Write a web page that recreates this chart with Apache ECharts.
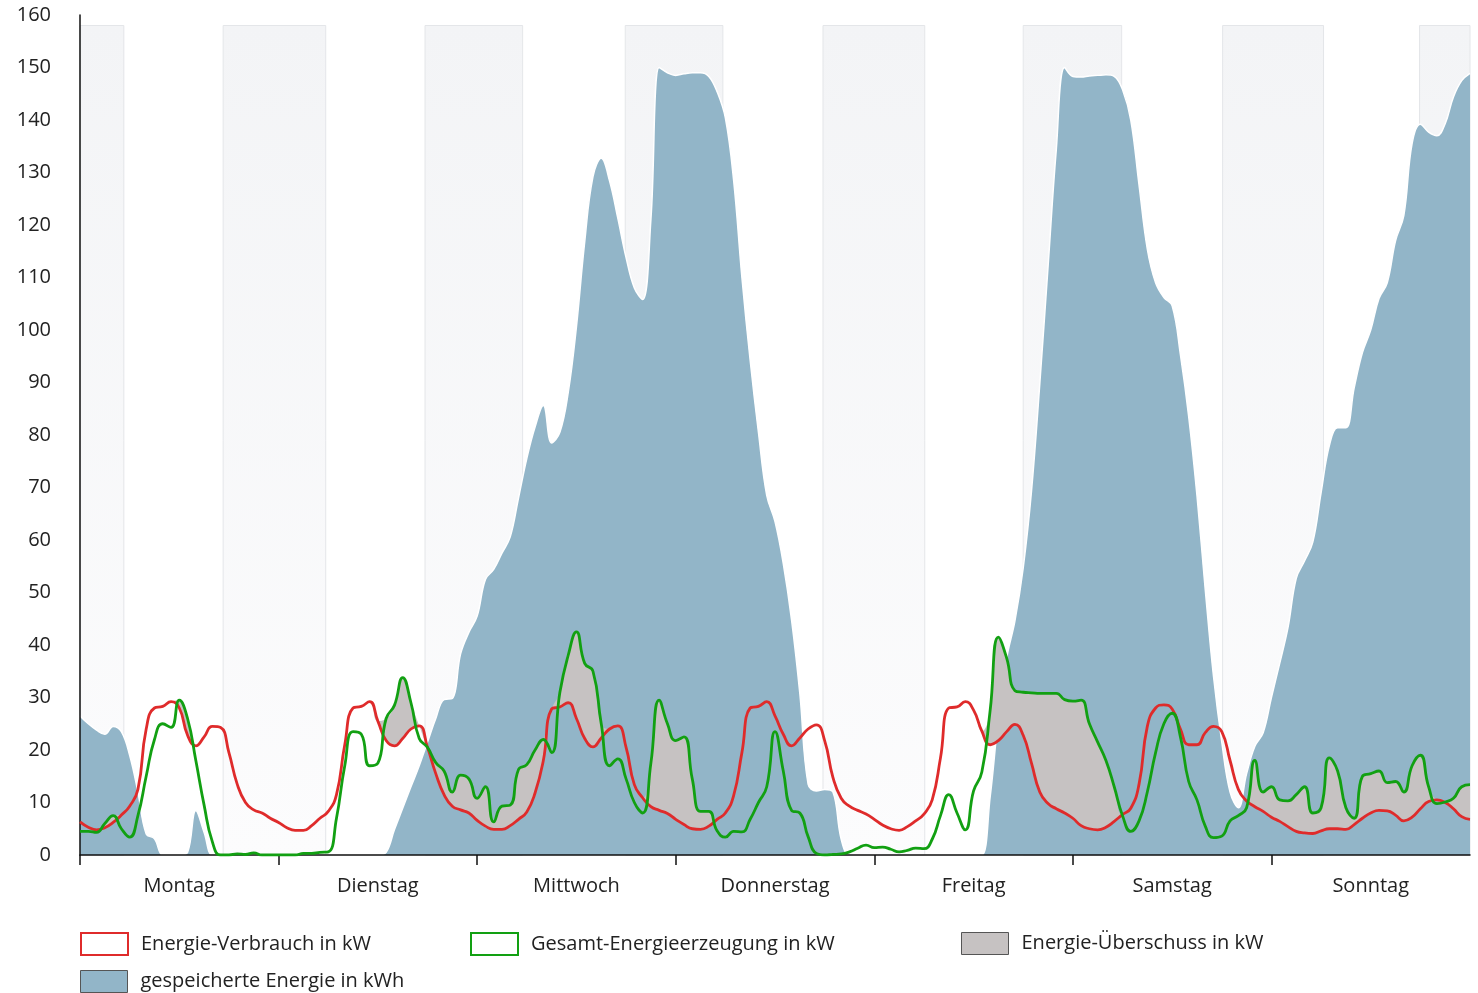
<!DOCTYPE html>
<html lang="de">
<head>
<meta charset="utf-8">
<title>Energiebilanz Woche</title>
<script src="https://cdn.jsdelivr.net/npm/echarts@6/dist/echarts.min.js"></script>
<style>
  html, body { margin: 0; padding: 0; background: #fff; }
  #chart { width: 1478px; height: 993px; }
</style>
</head>
<body>
<div id="chart"></div>
<script>
// x-Achse in Stunden (0..168), ein Wert pro Stunde
const tage = ['Montag', 'Dienstag', 'Mittwoch', 'Donnerstag', 'Freitag', 'Samstag', 'Sonntag'];
const tagesGrenzen = [0, 24, 48, 72, 96, 120, 144];
const tagesMitte = [12, 36, 60, 84, 108, 132, 156];
const yTicks = { min: 0, max: 160, step: 10 };

// graue Nachtbereiche (Stunde von / bis)
const nachtVon = [0, 17.3, 41.7, 65.9, 89.8, 114, 138.1, 161.9];
const nachtBis = [5.3, 29.7, 53.5, 77.7, 102.1, 125.9, 150.3, 168];

const verbrauch = [
  6.3, 5.3, 4.8, 5.2, 6.2, 7.6, 9.3, 12.5, 24, 28, 28.3, 29.2, 28, 22.8, 20.8, 22.5, 24.5, 24.3, 19.5, 13.5, 10, 8.6, 8.0, 7.0,
  6.2, 5.2, 4.7, 4.7, 5.6, 7, 8.3, 11.5, 21, 28, 28.3, 29.2, 25.5, 21.8, 20.8, 22.2, 24, 24.6, 20.5, 15.5, 11.5, 9.3, 8.6, 8.0,
  6.6, 5.5, 4.9, 4.9, 5.6, 6.8, 8.2, 11.8, 18, 27.8, 28.2, 29, 26, 22.2, 20.6, 22.3, 24, 24.6, 20.5, 13.4, 10.9, 9.2, 8.5, 7.9,
  6.8, 5.8, 5.0, 4.9, 5.5, 6.8, 8.0, 11.3, 19.5, 28, 28.3, 29.2, 26.5, 23, 20.8, 22.3, 24, 24.8, 21.8, 14.8, 10.8, 9.3, 8.5, 7.8,
  6.8, 5.7, 5.0, 4.7, 5.4, 6.5, 7.8, 10.5, 18.5, 28, 28.2, 29.2, 27.6, 23.6, 21, 21.8, 23.5, 24.9, 22.8, 17.5, 12, 9.8, 8.8, 8.0,
  7.0, 5.6, 5.0, 4.8, 5.3, 6.4, 7.7, 8.9, 13.5, 24.5, 28, 28.6, 27.8, 24, 21, 21, 23.3, 24.5, 23.5, 18, 12.5, 10.3, 9.2, 8.3,
  7.2, 6.4, 5.4, 4.5, 4.2, 4.1, 4.6, 5.0, 5.0, 4.9, 5.8, 7.0, 8.0, 8.5, 8.4, 7.6, 6.5, 7.2, 8.8, 10.2, 10.5, 10.0, 8.8, 7.3,
  6.8
];

const erzeugung = [
  4.5, 4.5, 4.3, 6.0, 7.5, 5.0, 3.4, 7.5, 15, 22, 25, 24.3, 29.5, 26, 18, 9.5, 2.5, 0, 0, 0.2, 0.1, 0.4, 0, 0,
  0, 0, 0, 0.3, 0.3, 0.5, 0.6, 7, 17, 23.5, 23, 17, 17.5, 26, 28.5, 33.8, 29, 22.2, 20.5, 17.6, 16, 12, 15.2, 14.5,
  10.8, 13, 6.3, 9.3, 9.5, 16.3, 17.2, 20, 22, 19.5, 31, 38, 42.5, 36.5, 35, 25, 17, 18.3, 14.5, 10, 8, 17.5, 29.5, 25,
  21.8, 22.5, 14.5, 8.3, 8.3, 4.6, 3.4, 4.5, 4.4, 6.8, 10, 13, 23.5, 16, 8.5, 8.0, 3.5, 0.3, 0, 0.1, 0.2, 0.6, 1.3, 1.9,
  1.4, 1.5, 1.1, 0.6, 0.9, 1.3, 1.2, 3, 7.5, 11.5, 8, 4.8, 12.2, 15.8, 27.5, 41.5, 37.5, 31.3, 31, 30.9, 30.8, 30.8, 30.8, 29.6,
  29.3, 29.5, 25, 21.5, 18, 13, 7.5, 4.5, 6.5, 12, 19.5, 25, 27, 22.5, 14, 10.5, 5.5, 3.3, 3.6, 6.5, 7.5, 9, 18, 12,
  13, 10.5, 10.3, 11.5, 13, 8, 9, 18.5, 16, 9, 7, 15, 15.5, 16, 13.8, 14, 12, 17, 19, 13, 9.8, 10.1, 10.8, 13,
  13.4
];

const speicher = [
  26.5, 25, 23.8, 23, 24.5, 23.5, 19, 12, 4, 3.1, 0, 0, 0, 0.5, 8.5, 4.3, 0, 0, 0, 0, 0, 0, 0, 0,
  0, 0, 0, 0, 0, 0, 0, 0, 0, 0, 0, 0, 0, 0.5, 4.8, 8.9, 13, 17, 21.5, 26, 29.6, 29.8, 38.3, 42.4,
  45.5, 52.5, 54.4, 57.5, 60.6, 68, 75.5, 81.5, 85.6, 78.5, 80.5, 88, 100.6, 116.8, 129.2, 132.7, 128.4, 121.3, 113.8, 108, 105.8, 121, 150, 149,
  148.5, 148.8, 149, 149, 148.3, 145.4, 140.4, 128.5, 110, 94.2, 80.5, 68.5, 63.5, 55.5, 44.8, 30.8, 13.5, 12.2, 12.5, 12, 3, 0, 0, 0,
  0, 0, 0, 0, 0, 0, 0, 0, 0, 0, 0, 0, 0, 0, 11, 26, 37.5, 44.6, 54.7, 69.3, 89.7, 112, 134.4, 150,
  148.3, 148.2, 148.4, 148.5, 148.6, 148.3, 145.8, 140, 127.6, 115.4, 109, 106.2, 104.6, 95.3, 83.5, 68.5, 50.6, 34, 21.5, 12, 9, 15.5, 20.7, 23.3,
  30, 36.5, 43.3, 52.7, 56, 59.6, 69, 78, 81.4, 81.4, 89, 95.7, 100, 106, 109, 117, 121.8, 135.5, 139.2, 137.7, 137, 139.3, 144.4, 147.5,
  148.9
];

// Überschuss = Erzeugung über dem Verbrauch, wird auf den Verbrauch gestapelt
const ueberschuss = erzeugung.map((g, i) => Math.max(0, +(g - verbrauch[i]).toFixed(2)));

const font = "'Open Sans', sans-serif";
const rot = '#df2b2b';
const gruen = '#12a012';
const blau = '#92b5c8';
const grau = '#c6c2c2';

// Wert zuerst, damit ECharts auf der y-Achse stapelt
const pts = arr => arr.map((v, h) => [v, h]);
const enc = { x: 1, y: 0 };

const bereiche = nachtVon.map((von, i) => [
  { xAxis: von, yAxis: 0 },
  { xAxis: nachtBis[i], yAxis: 158 }
]);

function legende(name, left, top, style) {
  return {
    left: left,
    top: top,
    itemWidth: 47,
    itemHeight: 22,
    selectedMode: false,
    textStyle: { fontSize: 20, color: '#222', fontFamily: font, padding: [0, 0, 0, 8] },
    data: [{ name: name, icon: 'rect', itemStyle: style }]
  };
}

let chart = echarts.init(document.getElementById('chart'));
chart.setOption({
  animation: false,
  textStyle: { fontFamily: font },
  grid: { left: 80, right: 8, top: 15, bottom: 138 },
  legend: [
    legende('Energie-Verbrauch in kW', 75, 927, { color: '#fff', borderColor: rot, borderWidth: 2 }),
    legende('Gesamt-Energieerzeugung in kW', 465, 927, { color: '#fff', borderColor: gruen, borderWidth: 2 }),
    legende('Energie-Überschuss in kW', 956, 927, { color: grau, borderColor: '#555', borderWidth: 1 }),
    legende('gespeicherte Energie in kWh', 75, 965, { color: blau, borderColor: '#555', borderWidth: 1 })
  ],
  xAxis: {
    type: 'value',
    min: 0,
    max: 168,
    z: 2,
    splitLine: { show: false },
    axisLine: { lineStyle: { color: '#111', width: 1.5 } },
    axisTick: { show: true, length: 10, customValues: tagesGrenzen, lineStyle: { color: '#111', width: 1.5 } },
    axisLabel: {
      customValues: tagesMitte,
      formatter: v => tage[Math.floor(v / 24)],
      fontSize: 20,
      color: '#222',
      margin: 21,
      fontFamily: font
    }
  },
  yAxis: {
    type: 'value',
    min: yTicks.min,
    max: yTicks.max,
    interval: yTicks.step,
    z: 2,
    splitLine: { show: false },
    axisLine: { show: true, lineStyle: { color: '#111', width: 1.5 } },
    axisTick: { show: false },
    axisLabel: { fontSize: 20, color: '#222', margin: 29, fontFamily: font }
  },
  series: [
    {
      name: 'nacht',
      type: 'line',
      data: [],
      silent: true,
      z: 0,
      markArea: {
        silent: true,
        itemStyle: {
          color: {
            type: 'linear', x: 0, y: 0, x2: 0, y2: 1,
            colorStops: [{ offset: 0, color: '#f3f4f6' }, { offset: 1, color: '#fcfcfd' }]
          },
          borderColor: '#e4e6e9',
          borderWidth: 1
        },
        data: bereiche
      }
    },
    {
      name: 'gespeicherte Energie in kWh',
      type: 'line',
      data: pts(speicher),
      encode: enc,
      smooth: 0.4,
      symbol: 'none',
      z: 1,
      itemStyle: { color: blau },
      lineStyle: { color: '#ffffff', width: 1.5 },
      areaStyle: { color: blau, opacity: 1 }
    },
    {
      name: 'Energie-Verbrauch in kW',
      type: 'line',
      stack: 'bilanz',
      data: pts(verbrauch),
      encode: enc,
      smooth: 0.5,
      symbol: 'none',
      z: 4,
      itemStyle: { color: rot },
      lineStyle: { color: rot, width: 2.8 }
    },
    {
      name: 'Energie-Überschuss in kW',
      type: 'line',
      stack: 'bilanz',
      data: pts(ueberschuss),
      encode: enc,
      smooth: 0.5,
      symbol: 'none',
      z: 3,
      itemStyle: { color: grau },
      lineStyle: { width: 0 },
      areaStyle: { color: grau, opacity: 1 }
    },
    {
      name: 'Gesamt-Energieerzeugung in kW',
      type: 'line',
      data: pts(erzeugung),
      encode: enc,
      smooth: 0.5,
      symbol: 'none',
      z: 5,
      itemStyle: { color: gruen },
      lineStyle: { color: gruen, width: 2.8 }
    }
  ]
});
</script>
</body>
</html>
